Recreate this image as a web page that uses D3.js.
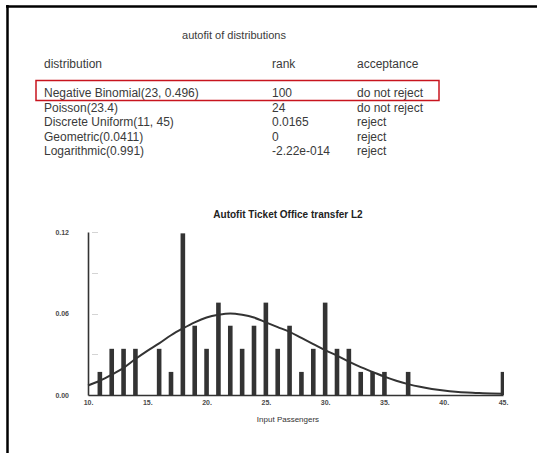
<!DOCTYPE html>
<html>
<head>
<meta charset="utf-8">
<script src="https://cdn.jsdelivr.net/npm/d3@7"></script>
<style>
    body { margin: 0; background: #fff; }
    text { font-family: "Liberation Sans", Arial, sans-serif; }
    .tick text { fill: #4a4a4a; }
</style>
</head>
<body>
<div id="chart"></div>
<script>

// table of fitted distributions
var distNames = ["Negative Binomial(23, 0.496)", "Poisson(23.4)", "Discrete Uniform(11, 45)", "Geometric(0.0411)", "Logarithmic(0.991)"];
var distRanks = ["100", "24", "0.0165", "0", "-2.22e-014"];
var distAccept = ["do not reject", "do not reject", "reject", "reject", "reject"];

// histogram (input passengers -> relative frequency)
var barX = [11, 12, 13, 14, 16, 17, 18, 19, 20, 21, 22, 23, 24, 25, 26, 27, 28, 29, 30, 31, 32, 33, 34, 35, 37, 45];
var barY = [0.017, 0.034, 0.034, 0.034, 0.034, 0.017, 0.119, 0.051, 0.034, 0.068, 0.051, 0.034, 0.051, 0.068, 0.034, 0.051, 0.017, 0.034, 0.068, 0.034, 0.034, 0.017, 0.017, 0.017, 0.017, 0.017];

// fitted curve
var curveX = [10, 11, 12, 13, 14, 15, 16, 17, 18, 19, 20, 21, 22, 23, 24, 25, 26, 27, 28, 29, 30, 31, 32, 33, 34, 35, 36, 37, 38, 39, 40, 41, 42, 43, 44, 45];
var curveY = [0.007, 0.0105, 0.015, 0.020, 0.0265, 0.0325, 0.038, 0.044, 0.049, 0.0535, 0.057, 0.059, 0.060, 0.059, 0.057, 0.0535, 0.050, 0.0465, 0.042, 0.0375, 0.033, 0.029, 0.0245, 0.0205, 0.017, 0.0135, 0.0105, 0.008, 0.006, 0.0045, 0.0033, 0.0024, 0.0018, 0.0014, 0.0011, 0.001];

var xTicks = [10, 15, 20, 25, 30, 35, 40, 45];
var yTickLabels = [0, 0.06, 0.12];
var yTicksMinor = [0.03, 0.06, 0.09, 0.12];

var width = 537, height = 453;

var svg = d3.select("#chart").append("svg")
    .attr("width", width)
    .attr("height", height);

// frame (top and left edges)
svg.append("line")
    .attr("x1", 6).attr("x2", width).attr("y1", 6.5).attr("y2", 6.5)
    .attr("stroke", "#000").attr("stroke-width", 2.5);
svg.append("line")
    .attr("x1", 7.5).attr("x2", 7.5).attr("y1", 5).attr("y2", height)
    .attr("stroke", "#000").attr("stroke-width", 2.5);

//////////////////////////////Table//////////////////////////////////
var textColor = "#3a3a3a";

svg.append("text")
    .attr("x", 234).attr("y", 39)
    .attr("text-anchor", "middle")
    .attr("font-size", 11)
    .attr("fill", textColor)
    .text("autofit of distributions");

var colX = [44, 272, 357];
var headers = ["distribution", "rank", "acceptance"];
svg.selectAll(".hdr")
    .data(headers)
    .enter().append("text")
    .attr("class", "hdr")
    .attr("x", function(d, i) { return colX[i]; })
    .attr("y", 68)
    .attr("font-size", 12)
    .attr("fill", textColor)
    .text(function(d) { return d; });

var rowY = d3.scaleLinear().domain([0, 1]).range([97, 111.6]);
var cols = [distNames, distRanks, distAccept];
cols.forEach(function(col, c) {
    svg.selectAll(".col" + c)
        .data(col)
        .enter().append("text")
        .attr("class", "col" + c)
        .attr("x", colX[c])
        .attr("y", function(d, i) { return rowY(i); })
        .attr("font-size", 12)
        .attr("fill", textColor)
        .text(function(d) { return d; });
});

// highlight box round the best fit
svg.append("rect")
    .attr("x", 36).attr("y", 80.5)
    .attr("width", 403).attr("height", 20)
    .attr("fill", "none")
    .attr("stroke", "#c8141e")
    .attr("stroke-width", 1.5);

//////////////////////////////Histogram//////////////////////////////////
var x = d3.scaleLinear().domain([10, 45]).range([88, 503]);
var y = d3.scaleLinear().domain([0, 0.12]).range([395, 232]);

svg.append("text")
    .attr("x", 288).attr("y", 218)
    .attr("text-anchor", "middle")
    .attr("font-size", 10)
    .attr("font-weight", "bold")
    .attr("fill", "#222")
    .text("Autofit Ticket Office transfer L2");

// minor ticks
svg.selectAll(".ytick")
    .data(yTicksMinor)
    .enter().append("line")
    .attr("class", "ytick")
    .attr("x1", x(10) + 4).attr("x2", x(10) + 10)
    .attr("y1", function(d) { return Math.round(y(d)) + 0.5; })
    .attr("y2", function(d) { return Math.round(y(d)) + 0.5; })
    .attr("stroke", "#d4d4d4").attr("stroke-width", 1);

svg.append("clipPath").attr("id", "plotclip")
    .append("rect")
    .attr("x", x(10)).attr("y", y(0.12) - 2)
    .attr("width", x(45) - x(10) + 1).attr("height", y(0) - y(0.12) + 2);

var barW = 4.6;
svg.append("g")
    .attr("clip-path", "url(#plotclip)")
    .selectAll("rect")
    .data(barX)
    .enter().append("rect")
    .attr("x", function(d) { return x(d) - barW / 2; })
    .attr("y", function(d, i) { return y(barY[i]); })
    .attr("width", barW)
    .attr("height", function(d, i) { return y(0) - y(barY[i]); })
    .attr("fill", "#333");

var line = d3.line()
    .x(function(d) { return x(d); })
    .y(function(d, i) { return y(curveY[i]); })
    .curve(d3.curveMonotoneX);

svg.append("path")
    .datum(curveX)
    .attr("d", line)
    .attr("fill", "none")
    .attr("stroke", "#333")
    .attr("stroke-width", 2);

// axes
var xAxis = d3.axisBottom(x)
    .tickValues(xTicks)
    .tickSize(0)
    .tickPadding(5)
    .tickFormat(function(d) { return d + "."; });
var gx = svg.append("g")
    .attr("transform", "translate(0," + y(0) + ")")
    .call(xAxis);
gx.select(".domain").attr("stroke", "#333").attr("stroke-width", 1.6);
gx.selectAll("text")
    .attr("font-family", "'Liberation Sans', Arial, sans-serif")
    .attr("font-size", 7).attr("font-weight", "bold");

var yAxis = d3.axisLeft(y)
    .tickValues(yTickLabels)
    .tickSize(0)
    .tickPadding(19)
    .tickFormat(d3.format(".2f"));
var gy = svg.append("g")
    .attr("transform", "translate(" + x(10) + ",0)")
    .call(yAxis);
gy.select(".domain").attr("stroke", "#333").attr("stroke-width", 1.6);
gy.selectAll("text")
    .attr("font-family", "'Liberation Sans', Arial, sans-serif")
    .attr("font-size", 7).attr("font-weight", "bold");

svg.append("text")
    .attr("x", 288).attr("y", 422)
    .attr("text-anchor", "middle")
    .attr("font-size", 8)
    .attr("fill", "#333")
    .text("Input Passengers");

</script>
</body>
</html>
